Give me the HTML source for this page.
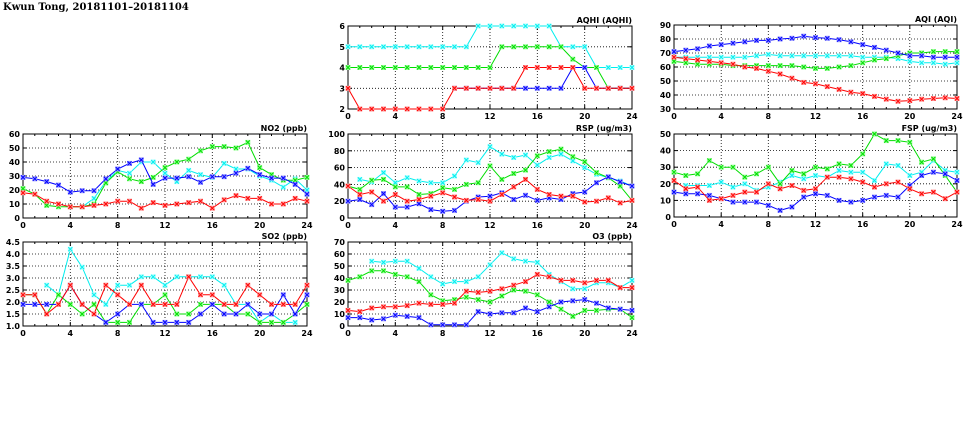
<!DOCTYPE html>
<html><head><meta charset="utf-8"><style>
html,body{margin:0;padding:0;background:#fff;width:975px;height:447px;overflow:hidden}
svg text{font-family:"DejaVu Sans","Liberation Sans",sans-serif;font-size:8px;font-weight:bold;fill:#000}
</style></head><body>
<svg id="s" width="975" height="447" xmlns="http://www.w3.org/2000/svg">
<text x="3" y="10" style="font-size:10px;font-weight:bold;font-family:'DejaVu Serif','Liberation Serif',serif">Kwun Tong, 20181101–20181104</text>
</svg>
<script>
const N=null;
const C={r:'#ff0000',g:'#00dd00',b:'#0000ff',c:'#00eeee'};
const L={r:'#ff9999',g:'#99ff99',b:'#9999ff',c:'#aaffff'};
const P=[
{t:'AQHI (AQHI)',x0:348,x1:632,y0:26,y1:109,min:2,max:6,step:1,dec:0,s:{
c:[5,5,5,5,5,5,5,5,5,5,5,6,6,6,6,6,6,6,5,5,5,4,4,4,4],
g:[4,4,4,4,4,4,4,4,4,4,4,4,4,5,5,5,5,5,5,4.4,4,4,3,3,3],
b:[N,N,N,N,N,N,N,N,N,3,3,3,3,3,3,3,3,3,3,4,4,3,3,3,3],
r:[3,2,2,2,2,2,2,2,2,3,3,3,3,3,3,4,4,4,4,4,3,3,3,3,3]}},
{t:'AQI (AQI)',x0:674,x1:957,y0:25,y1:109,min:30,max:90,step:10,dec:0,s:{
b:[71,72,73,75,76,77,78,79,79,80,80.5,82,81,80.5,79.5,78,76,74,72,70,68,68,67,67,67],
c:[67,67,67,67,67,67,67,68,69,68,68,68,68,68,68,68,67,67,67,66,64,63,63,62,63],
g:[64,63,62,62,62,61,61,61,61,61,61,60,59,59,60,61,63,65,66,68,70,70,71,71,71],
r:[67,66,65,64,63,62,60,59,57,55,52,49,48,46,44,42,41,39,37,35.5,36,37,37.5,38,37.5]}},
{t:'NO2 (ppb)',x0:23,x1:307,y0:134,y1:218,min:0,max:60,step:10,dec:0,s:{
c:[N,N,N,N,N,8,14,26,34,32,40,40,32,26,34,31,29,39,35,35,30,27,22,28,20],
g:[21,17,9,8,8,8,10,25,33,28,26,29,36,40,42,48,51,51,50,54,36,31,27,27,29],
b:[29,28,26,23.5,18.5,19.5,19.5,28,35,39,41.5,24,28.5,28.5,29.5,25.5,29.5,29.5,32,35.5,31,28.5,28.5,24,17],
r:[18,17,12,10,8,8,9,10,12,12,7,11,9,10,11,12,7,13,16,14,14,10,10,14,12]}},
{t:'RSP (ug/m3)',x0:348,x1:632,y0:134,y1:218,min:0,max:100,step:20,dec:0,s:{
c:[N,46,43,54,42,48,44,42,42,50,69,66,85,76,72,75,63,72,76,68,60,52,48,44,38],
g:[38,34,45,46,37,37,28,29,36,34,40,42,62,46,53,57,74,79,82,73,67,54,48,38,21],
r:[38,28,31,20,28,20,22,26,30,25,21,22,20,28,37,46,34,28,26,26,19,20,24,18,21],
b:[20,22,16,29,13,13,17,10,8,9,20,25,26,30,22,27,21,24,22,29,31,42,49,43,38]}},
{t:'FSP (ug/m3)',x0:674,x1:957,y0:134,y1:217,min:0,max:50,step:10,dec:0,s:{
g:[27,25,26,34,30,30,24,26,30,20,28,26,30,29,32,31,38,50,46,46,45,33,35,25,15],
c:[N,19,19,19,21,18,20,16,18,21,25,23,25,24,28,27,27,22,32,31,25,27,34,28,27],
r:[22,17,18,10,11,13,15,15,20,17,19,16,17,24,24,23,21,18,20,21,17,14,15,11,15],
b:[15,14,14,13,11,9,9,9,7,4,6,12,14,13,10,9,10,12,13,12,19,25,27,26,22]}},
{t:'SO2 (ppb)',x0:23,x1:307,y0:242,y1:326,min:1,max:4.5,step:0.5,dec:1,s:{
c:[N,N,2.7,2.3,4.2,3.45,2.3,1.9,2.7,2.7,3.05,3.05,2.7,3.05,3.05,3.05,3.05,2.7,1.9,1.9,1.15,1.5,1.15,1.15,N],
g:[2.3,2.3,1.5,2.3,1.9,1.5,1.9,1.15,1.15,1.15,1.9,1.9,2.3,1.5,1.5,1.9,1.9,1.9,1.5,1.5,1.15,1.15,1.15,1.5,1.9],
b:[1.9,1.9,1.9,1.9,2.7,1.9,1.5,1.15,1.5,1.9,1.9,1.15,1.15,1.15,1.15,1.5,1.9,1.5,1.5,1.9,1.5,1.5,2.3,1.5,2.3],
r:[2.3,2.3,1.5,1.9,2.7,1.9,1.5,2.7,2.3,1.9,2.7,1.9,1.9,1.9,3.05,2.3,2.3,1.9,1.9,2.7,2.3,1.9,1.9,1.9,2.7]}},
{t:'O3 (ppb)',x0:348,x1:632,y0:242,y1:326,min:0,max:70,step:10,dec:0,s:{
c:[N,N,54,53,54,54,48,41,35,37,37,41,51,61,56,54,53,43,37,31,31,36,36,32,38],
g:[38,41,46,46,43,41,37,26,21,22,24,22,20,25,30,29,26,20,14,8,13,13,14,14,7],
r:[13,12,15,16,16,17,19,18,18,19,29,28,29,31,34,37,43,41,38,38,36,38,38,32,32],
b:[7,7,5,6,9,8,7,1,1,1,1,12,10,11,11,15,12,16,20,21,22,19,15,14,13]}}
];
let h='';
for(const p of P){
 const X=i=>p.x0+(p.x1-p.x0)*i/24, Y=v=>p.y1-(p.y1-p.y0)*(v-p.min)/(p.max-p.min);
 for(let v=p.min;v<=p.max+1e-9;v+=p.step){const y=Y(v).toFixed(1);
  if(v>p.min&&v<p.max-1e-9)h+=`<line x1="${p.x0}" x2="${p.x1}" y1="${y}" y2="${y}" stroke="#000" stroke-width="0.8" stroke-dasharray="1,2"/>`;
  h+=`<line x1="${p.x0}" x2="${p.x0+4}" y1="${y}" y2="${y}" stroke="#000"/><line x1="${p.x1-4}" x2="${p.x1}" y1="${y}" y2="${y}" stroke="#000"/>`;
  h+=`<text x="${p.x0-3}" y="${(+y+3).toFixed(1)}" text-anchor="end">${v.toFixed(p.dec)}</text>`;}
 for(let i=0;i<=24;i++){const x=X(i).toFixed(1);
  if(i%4==0){ if(i>0&&i<24)h+=`<line x1="${x}" x2="${x}" y1="${p.y0}" y2="${p.y1}" stroke="#000" stroke-width="0.8" stroke-dasharray="1,2"/>`;
   h+=`<text x="${x}" y="${p.y1+10}" text-anchor="middle">${i}</text>`;
   h+=`<line x1="${x}" x2="${x}" y1="${p.y1}" y2="${p.y1-4}" stroke="#000"/><line x1="${x}" x2="${x}" y1="${p.y0}" y2="${p.y0+4}" stroke="#000"/>`;}
  else h+=`<line x1="${x}" x2="${x}" y1="${p.y1}" y2="${p.y1-2}" stroke="#000"/><line x1="${x}" x2="${x}" y1="${p.y0}" y2="${p.y0+2}" stroke="#000"/>`;}
 h+=`<rect x="${p.x0}" y="${p.y0}" width="${p.x1-p.x0}" height="${p.y1-p.y0}" fill="none" stroke="#000"/>`;
 h+=`<text x="${p.x1}" y="${p.y0-3}" text-anchor="end">${p.t}</text>`;
 for(const k of ['c','g','b','r']){const d=p.s[k];if(!d)continue;
  let path='',pen=false;
  d.forEach((v,i)=>{if(v===N){pen=false;return;}path+=(pen?'L':'M')+X(i).toFixed(1)+','+Y(v).toFixed(1);pen=true;});
  h+=`<path d="${path}" fill="none" stroke="${C[k]}" stroke-width="1"/>`;
  d.forEach((v,i)=>{if(v===N)return;const x=X(i),y=Y(v);
   h+=`<rect x="${(x-2.5).toFixed(1)}" y="${(y-2.5).toFixed(1)}" width="5" height="5" fill="${L[k]}"/><path d="M${x-2},${y-2}L${x+2},${y+2}M${x-2},${y+2}L${x+2},${y-2}" stroke="${C[k]}" stroke-width="1"/>`;});
 }
}
document.getElementById('s').insertAdjacentHTML('beforeend',h);
</script>
</body></html>
